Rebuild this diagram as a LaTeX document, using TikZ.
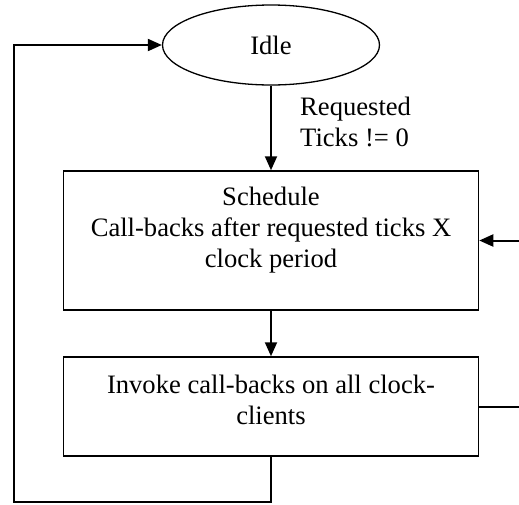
\documentclass[tikz,border=0pt]{standalone}
\usepackage{fontspec}
\setmainfont{Liberation Serif}
\usetikzlibrary{arrows.meta,shapes.geometric}
\begin{document}
\begin{tikzpicture}[x=1pt,y=-1pt,
  every node/.style={font=\fontsize{26.6}{31}\selectfont},
  stateshape/.style={draw, ellipse, line width=1.3pt, minimum width=217pt, minimum height=80pt, inner sep=0pt},
  boxshape/.style={draw, line width=1.5pt, minimum width=415pt, inner sep=0pt},
  txt/.style={align=center, inner sep=0pt},
  lbl/.style={align=left, inner sep=0pt},
  link/.style={line width=2pt},
  conn/.style={link, -{Triangle[length=14pt,width=12pt]}}]
\useasboundingbox (0,0) rectangle (519,504);
\node[stateshape] (idle) at (271,45) {Idle};
\node[boxshape, minimum height=139pt] (sched) at (271,240.5) {};
\node[txt, anchor=north] (schedtext) at (271,187) {Schedule\\Call-backs after requested ticks X\\clock period};
\node[boxshape, minimum height=99pt] (invoke) at (271,406.5) {};
\node[txt, anchor=north] (invoketext) at (271,375) {Invoke call-backs on all clock-\\clients};
\node[lbl, anchor=north west] (cond) at (300,97) {Requested\\Ticks != 0};
\coordinate (rin) at (519,240.5);
\coordinate (rout) at (519,406.5);
\coordinate (bl) at (14,502);
\draw[conn] (idle.south) -- (sched.north);
\draw[conn] (sched.south) -- (invoke.north);
\draw[conn] (rin) -- (sched.east);
\draw[link] (invoke.east) -- (rout);
\draw[conn] (invoke.south) |- (bl) |- (idle.west);
\end{tikzpicture}
\end{document}
